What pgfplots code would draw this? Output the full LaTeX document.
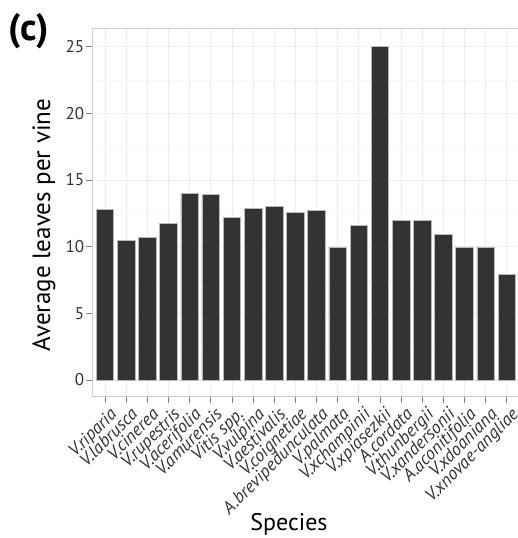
\documentclass[border=0pt]{standalone}
\usepackage{fontspec}
\setmainfont{PT Sans}
\usepackage{pgfplots}
\pgfplotsset{compat=1.18}
\definecolor{barfill}{RGB}{51,51,51}
\definecolor{gridmaj}{RGB}{235,235,235}
\definecolor{gridmin}{RGB}{245,245,245}
\definecolor{borderc}{RGB}{205,205,205}
\definecolor{tickc}{RGB}{130,130,130}
\begin{document}
\begin{tikzpicture}
\path[use as bounding box] (-92.3pt,-141.3pt) rectangle (425.7pt,396.7pt);
\begin{axis}[
  scale only axis,
  width=425.7pt, height=368.4pt,
  xmin=0.4, xmax=20.53,
  ymin=-1.25, ymax=26.38,
  axis line style={borderc, line width=0.8pt},
  xtick={1,...,20},
  xticklabels={V.riparia, V.labrusca, V.cinerea, V.rupestris, V.acerifolia, V.amurensis, Vitis spp., V.vulpina, V.aestivalis, V.coignetiae, A.brevipedunculata, V.palmata, V.xchampinii, V.xpiasezkii, A.cordata, V.thunbergii, V.xandersonii, A.aconitifolia, V.xdoaniana, V.xnovae-angliae},
  ytick={0,5,10,15,20,25},
  minor ytick={2.5,7.5,12.5,17.5,22.5},
  xmajorgrids, ymajorgrids, yminorgrids,
  major grid style={gridmaj, line width=0.6pt},
  minor grid style={gridmin, line width=0.4pt},
  tick align=outside,
  major tick length=6pt,
  minor tick length=0pt,
  tick style={tickc, line width=0.6pt},
  xtick pos=bottom, ytick pos=left,
  xticklabel style={font=\itshape\fontsize{18}{18}\selectfont, rotate=45, anchor=north east, inner sep=1pt, text=black!80, yshift=-4pt, xshift=1pt},
  yticklabel style={font=\fontsize{17}{17}\selectfont, text=black!80, inner sep=2pt},
  /pgf/number format/assume math mode=true,
  xlabel={Species},
  ylabel={Average leaves per vine},
  xlabel style={font=\fontsize{24}{24}\selectfont, at={(axis description cs:0.462,-0.362)}, anchor=base},
  ylabel style={font=\fontsize{25}{25}\selectfont, at={(axis description cs:-0.099,0.466)}, anchor=base, rotate=0},
  clip=false,
]
\addplot[ybar, bar width=17.5pt, bar shift=0pt, fill=barfill, draw=gray!55, line width=0.5pt] coordinates {
(1,12.8) (2,10.5) (3,10.7) (4,11.75) (5,14.0) (6,13.9) (7,12.2) (8,12.85) (9,13.0) (10,12.57)
(11,12.7) (12,9.95) (13,11.6) (14,25.0) (15,12.0) (16,12.0) (17,10.95) (18,9.95) (19,9.95) (20,7.93)
};
\node[font=\bfseries\fontsize{38}{38}\selectfont, anchor=base west, inner sep=0pt] at (axis description cs:-0.198,0.968) {(c)};
\end{axis}
\end{tikzpicture}
\end{document}
